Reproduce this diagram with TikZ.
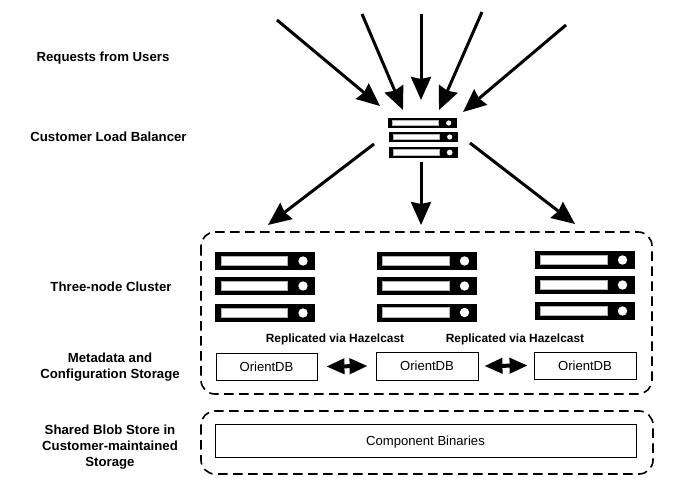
\documentclass[tikz,border=0pt]{standalone}
\usepackage{fontspec}
\setmainfont{Liberation Sans}
\usepackage{tikz}
\usetikzlibrary{positioning,arrows.meta,calc}

\tikzset{
    lbl/.style={font=\fontsize{13.2}{16}\selectfont\bfseries, align=center},
    replbl/.style={font=\fontsize{11.9}{14}\selectfont\bfseries},
    rack/.style={fill=black, minimum height=#1, inner sep=0pt, outer sep=0pt},
    flow/.style={-{Stealth[length=23pt, width=20pt, inset=2pt]}, line width=3pt},
    sync/.style={{Stealth[length=18pt, width=15pt, inset=0pt]}-{Stealth[length=18pt, width=15pt, inset=0pt]}, line width=4pt},
    dbbox/.style={draw, line width=0.9pt, inner sep=0pt, text height=9.5pt, text depth=0pt, font=\fontsize{13.1}{16}\selectfont},
    zone/.style={draw, line width=1.6pt, rounded corners=14pt, dash pattern=on 9.5pt off 5.5pt},
}

% one server: black slab, pale slot, white lamp
\newcommand{\serverunit}[5]{
    \node[rack=#5, minimum width=#4] (#1) at (#2,#3) {};
    \fill[white, draw=gray!60, line width=0.7pt] ($(#1.west)+(#4*0.06,-#5*0.26)$) rectangle ($(#1.west)+(#4*0.725,#5*0.26)$);
    \fill[white] ($(#1.west)+(#4*0.88,0)$) circle[radius=#5*0.26];
}

\begin{document}
\begin{tikzpicture}[x=1pt, y=-1pt]
    \useasboundingbox (0,0) rectangle (700,502);

    \node[lbl] (requests) at (103,58) {Requests from Users};
    \node[lbl] (balancerlbl) at (108.5,137) {Customer Load Balancer};
    \node[lbl] (clusterlbl) at (111,286.5) {Three-node Cluster};
    \node[lbl] (metalbl) at (110,367) {Metadata and\\Configuration Storage};
    \node[lbl] (bloblbl) at (110,447) {Shared Blob Store in\\Customer-maintained\\Storage};

    % load balancer
    \serverunit{lbtop}{422.5}{123}{69pt}{10pt}
    \serverunit{lbmid}{423.5}{137}{69pt}{10pt}
    \serverunit{lbbot}{423.5}{152.5}{69pt}{11pt}

    % cluster
    \foreach \n/\x/\ya/\yb/\yc in {a/265/261/286/313, b/426.5/261/286/312.5, c/584.5/260/285/311} {
        \serverunit{top\n}{\x}{\ya}{100pt}{18pt}
        \serverunit{mid\n}{\x}{\yb}{100pt}{18pt}
        \serverunit{bot\n}{\x}{\yc}{100pt}{18pt}
    }

    \node[replbl] (repa) at (335,339) {Replicated via Hazelcast};
    \node[replbl] (repb) at (515,339) {Replicated via Hazelcast};

    \node[dbbox, minimum width=101pt, minimum height=27pt] (dba) at (266.5,366.5) {OrientDB};
    \node[dbbox, minimum width=102pt, minimum height=28pt] (dbb) at (427,366) {OrientDB};
    \node[dbbox, minimum width=102pt, minimum height=27pt] (dbc) at (585,365.5) {OrientDB};
    \node[dbbox, minimum width=421pt, minimum height=33pt] (binaries) at (425.5,440.5) {Component Binaries};

    \draw[zone] (201,232) rectangle (652,394);
    \draw[zone] (201,411) rectangle (653,474);

    % incoming
    \coordinate (ua) at (277,20);
    \coordinate (ub) at (362,14);
    \coordinate (uc) at (421,14);
    \coordinate (ud) at (482,12);
    \coordinate (ue) at (566,25);
    \coordinate (ta) at (380,106);
    \coordinate (tb) at (403,110);
    \coordinate (tc) at (421,100);
    \coordinate (td) at (439,110);
    \coordinate (te) at (463,112);
    \foreach \f/\t in {ua/ta, ub/tb, uc/tc, ud/td, ue/te} {
        \draw[flow] (\f) -- (\t);
    }

    % outgoing
    \coordinate (sa) at (374,144);
    \coordinate (sb) at (421,162);
    \coordinate (sc) at (470,143);
    \coordinate (ea) at (268,225);
    \coordinate (eb) at (421,225);
    \coordinate (ec) at (575,224);
    \foreach \f/\t in {sa/ea, sb/eb, sc/ec} {
        \draw[flow] (\f) -- (\t);
    }

    \draw[sync] ($(dba.east)+(9,0)$) -- ($(dbb.west)+(-8,0)$);
    \draw[sync] ($(dbb.east)+(6,0)$) -- ($(dbc.west)+(-6,0)$);
\end{tikzpicture}
\end{document}
